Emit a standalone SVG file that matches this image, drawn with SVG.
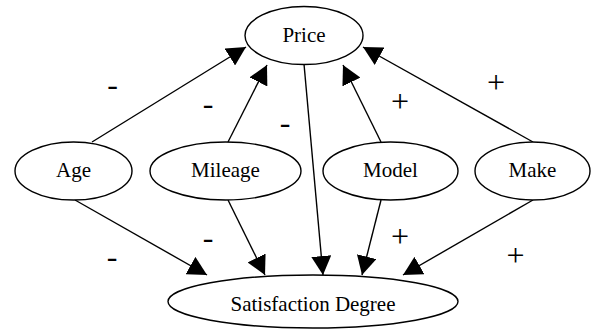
<svg xmlns="http://www.w3.org/2000/svg" width="596" height="329" viewBox="0 0 596 329">
<style>
.node ellipse{fill:#fff;stroke:#000;stroke-width:1.4}
.node text{font-size:21px;text-anchor:middle;fill:#000}
.edge line{stroke:#000;stroke-width:1.4;fill:none}
.lbl{font-size:32px;text-anchor:middle;fill:#000}
</style>
<defs>
<marker id="ah" markerUnits="userSpaceOnUse" markerWidth="20" markerHeight="20" refX="19" refY="10" orient="auto" viewBox="0 0 20 20">
<path d="M0,0 L19,10 L0,20 z" fill="#000"/>
</marker>
</defs>
<rect width="596" height="329" fill="#fff"/>
<g id="edges" class="edge">
<line x1="92" y1="142" x2="246" y2="47" marker-end="url(#ah)"/>
<line x1="228" y1="142" x2="267" y2="65" marker-end="url(#ah)"/>
<line x1="381" y1="142" x2="343" y2="65" marker-end="url(#ah)"/>
<line x1="533" y1="142" x2="363" y2="47" marker-end="url(#ah)"/>
<line x1="304" y1="64" x2="323" y2="275" marker-end="url(#ah)"/>
<line x1="75" y1="200" x2="207" y2="275" marker-end="url(#ah)"/>
<line x1="228" y1="200" x2="265" y2="275" marker-end="url(#ah)"/>
<line x1="381" y1="200" x2="362" y2="275" marker-end="url(#ah)"/>
<line x1="533" y1="200" x2="403" y2="275" marker-end="url(#ah)"/>
</g>
<g id="labels" font-family="Liberation Serif, serif">
<text class="lbl" x="112.5" y="95">-</text>
<text class="lbl" x="208" y="114">-</text>
<text class="lbl" x="285" y="133">-</text>
<text class="lbl" x="400" y="111.5">+</text>
<text class="lbl" x="496" y="92.5">+</text>
<text class="lbl" x="112" y="267">-</text>
<text class="lbl" x="208" y="248">-</text>
<text class="lbl" x="400" y="246.5">+</text>
<text class="lbl" x="515.5" y="265.5">+</text>
</g>
<g id="price" class="node" font-family="Liberation Serif, serif">
<ellipse cx="304" cy="35.5" rx="59" ry="29"/>
<text x="304" y="42">Price</text>
</g>
<g id="age" class="node" font-family="Liberation Serif, serif">
<ellipse cx="73.5" cy="171" rx="58.5" ry="29"/>
<text x="73.5" y="176.5">Age</text>
</g>
<g id="mileage" class="node" font-family="Liberation Serif, serif">
<ellipse cx="225.5" cy="171" rx="75.5" ry="29"/>
<text x="225.5" y="176.5">Mileage</text>
</g>
<g id="model" class="node" font-family="Liberation Serif, serif">
<ellipse cx="390.5" cy="171" rx="67.5" ry="29"/>
<text x="390.5" y="176.5">Model</text>
</g>
<g id="make" class="node" font-family="Liberation Serif, serif">
<ellipse cx="532.5" cy="171" rx="57.5" ry="29"/>
<text x="532.5" y="176.5">Make</text>
</g>
<g id="satisfaction" class="node" font-family="Liberation Serif, serif">
<ellipse cx="313" cy="301.5" rx="145" ry="26.5"/>
<text x="313" y="310.5">Satisfaction Degree</text>
</g>
</svg>
